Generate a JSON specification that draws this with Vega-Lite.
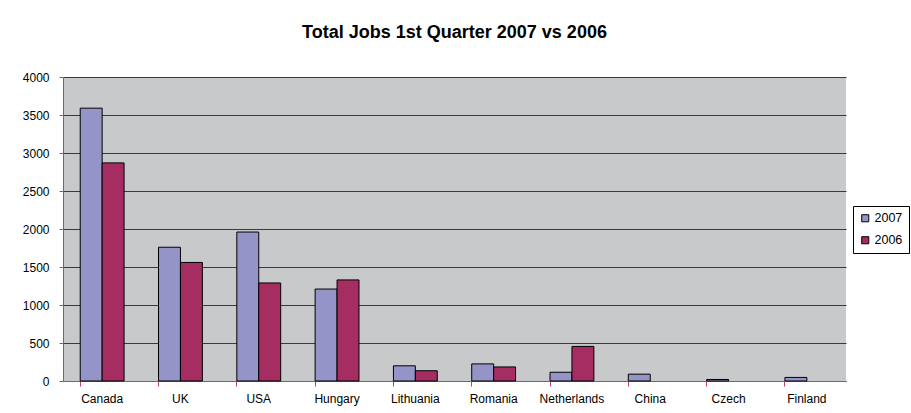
{
  "$schema": "https://vega.github.io/schema/vega-lite/v6.json",
  "autosize": "none",
  "width": 783,
  "height": 304,
  "padding": {"left": 63, "top": 77, "right": 65, "bottom": 32},
  "background": "white",
  "title": {
    "text": "Total Jobs 1st Quarter 2007 vs 2006",
    "font": "Liberation Sans",
    "fontSize": 18,
    "fontWeight": "bold",
    "color": "black",
    "anchor": "middle",
    "offset": 29
  },
  "data": {
    "values": [
      {"country": "Canada", "year": "2007", "jobs": 3590},
      {"country": "Canada", "year": "2006", "jobs": 2870},
      {"country": "UK", "year": "2007", "jobs": 1760},
      {"country": "UK", "year": "2006", "jobs": 1560},
      {"country": "USA", "year": "2007", "jobs": 1960},
      {"country": "USA", "year": "2006", "jobs": 1290},
      {"country": "Hungary", "year": "2007", "jobs": 1210},
      {"country": "Hungary", "year": "2006", "jobs": 1330},
      {"country": "Lithuania", "year": "2007", "jobs": 200},
      {"country": "Lithuania", "year": "2006", "jobs": 135},
      {"country": "Romania", "year": "2007", "jobs": 225},
      {"country": "Romania", "year": "2006", "jobs": 185},
      {"country": "Netherlands", "year": "2007", "jobs": 115},
      {"country": "Netherlands", "year": "2006", "jobs": 455},
      {"country": "China", "year": "2007", "jobs": 90},
      {"country": "China", "year": "2006", "jobs": null},
      {"country": "Czech", "year": "2007", "jobs": 20},
      {"country": "Czech", "year": "2006", "jobs": null},
      {"country": "Finland", "year": "2007", "jobs": 47},
      {"country": "Finland", "year": "2006", "jobs": null}
    ]
  },
  "mark": {"type": "bar", "stroke": "black", "strokeWidth": 1},
  "encoding": {
    "x": {
      "field": "country",
      "type": "nominal",
      "sort": null,
      "scale": {"paddingInner": 0.44, "paddingOuter": 0.22},
      "axis": {
        "title": null,
        "labelAngle": 0,
        "bandPosition": 0,
        "labelDx": 39,
        "labelFont": "Liberation Sans",
        "labelFontSize": 12,
        "labelColor": "black",
        "labelPadding": 7,
        "tickSize": 5,
        "tickColor": "#c0406a",
        "domainColor": "#c0406a",
        "grid": false
      }
    },
    "xOffset": {
      "field": "year",
      "type": "nominal",
      "sort": ["2007", "2006"],
      "scale": {"domain": ["2007", "2006"], "paddingInner": 0, "paddingOuter": 0}
    },
    "y": {
      "field": "jobs",
      "type": "quantitative",
      "scale": {"domain": [0, 4000], "nice": false},
      "axis": {
        "title": null,
        "format": "d",
        "values": [0, 500, 1000, 1500, 2000, 2500, 3000, 3500, 4000],
        "labelFont": "Liberation Sans",
        "labelFontSize": 12,
        "labelColor": "black",
        "labelPadding": 10,
        "tickSize": 4,
        "tickColor": "#c0406a",
        "domainColor": "#c0406a",
        "grid": true,
        "gridColor": "#3a3a3a",
        "gridWidth": 1,
        "gridOpacity": 1
      }
    },
    "color": {
      "field": "year",
      "type": "nominal",
      "sort": ["2007", "2006"],
      "scale": {"domain": ["2007", "2006"], "range": ["#9494c8", "#a52d62"]},
      "legend": {
        "title": null,
        "orient": "none",
        "legendX": 790,
        "legendY": 129,
        "fillColor": "white",
        "strokeColor": "black",
        "padding": 6,
        "symbolType": "square",
        "symbolSize": 50,
        "symbolStrokeColor": "black",
        "symbolStrokeWidth": 1,
        "labelFont": "Liberation Sans",
        "labelFontSize": 12.5,
        "labelColor": "black",
        "rowPadding": 9,
        "labelOffset": 3
      }
    }
  },
  "config": {
    "view": {"fill": "#c8c9cb", "stroke": null}
  }
}
